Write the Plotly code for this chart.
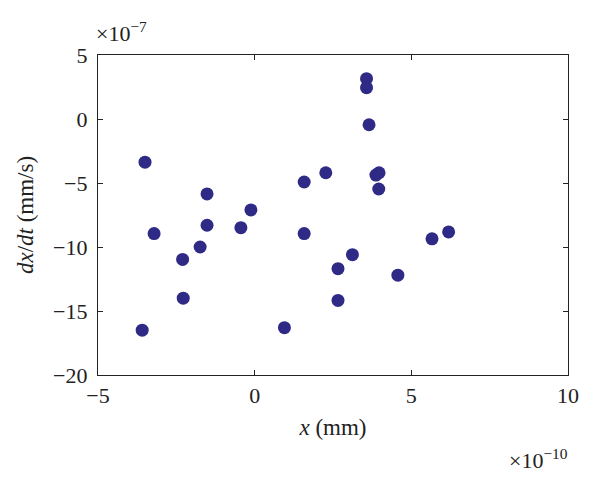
import plotly.graph_objects as go

x_vals = [-3.5, -3.21, -1.52, -1.52, -0.12, -0.44, -1.74, -2.30, -2.28, -3.59, 0.95,
          3.57, 3.57, 3.65, 3.97, 3.87, 3.96, 2.27, 1.58, 1.58, 5.66, 6.19, 3.12, 2.66, 4.57, 2.66]
y_vals = [-3.37, -8.95, -5.85, -8.3, -7.1, -8.49, -10.0, -10.97, -14.0, -16.5, -16.3,
          3.15, 2.45, -0.45, -4.2, -4.38, -5.47, -4.2, -4.92, -8.95, -9.36, -8.82, -10.6, -11.69, -12.2, -14.17]

x_ticks = [-5, 0, 5, 10]
y_ticks = [-20, -15, -10, -5, 0, 5]

font_family = "Liberation Serif, DejaVu Serif, serif"

fig = go.Figure()
fig.add_trace(go.Scatter(
    x=x_vals, y=y_vals, mode="markers",
    marker=dict(size=13, color="#2e2a85", line=dict(width=0)),
    showlegend=False,
))

axis_common = dict(
    showgrid=False, zeroline=False, showline=True, linecolor="#222222", linewidth=1.3,
    ticks="inside", ticklen=5, tickcolor="#222222", mirror="ticks",
    tickfont=dict(family=font_family, size=22, color="#222222"),
)

fig.update_layout(
    width=600, height=487,
    margin=dict(l=90, r=40, t=47, b=120),
    paper_bgcolor="white", plot_bgcolor="white",
    xaxis=dict(range=[-5, 10], tickvals=x_ticks,
               ticktext=[f"\u2212{abs(v)}" if v < 0 else str(v) for v in x_ticks],
               title=dict(text="<i>x</i> (mm)", font=dict(family=font_family, size=23, color="#222222"), standoff=12),
               **axis_common),
    yaxis=dict(range=[-20, 5], tickvals=y_ticks,
               ticktext=[f"\u2212{abs(v)}" if v < 0 else str(v) for v in y_ticks],
               ticklabelstandoff=5,
               title=dict(text="<i>dx</i>/<i>dt</i> (mm/s)", font=dict(family=font_family, size=23, color="#222222"), standoff=12),
               **axis_common),
    annotations=[
        dict(text="\u00d710<sup>\u22127</sup>", xref="paper", yref="paper", x=0.0, y=1.0,
             xanchor="left", yanchor="bottom", yshift=7, xshift=-4, showarrow=False,
             font=dict(family=font_family, size=22, color="#222222")),
        dict(text="\u00d710<sup>\u221210</sup>", xref="paper", yref="paper", x=1.0, y=0.0,
             xanchor="right", yanchor="top", yshift=-68, xshift=2, showarrow=False,
             font=dict(family=font_family, size=22, color="#222222")),
    ],
)

fig.write_html("out.html")
